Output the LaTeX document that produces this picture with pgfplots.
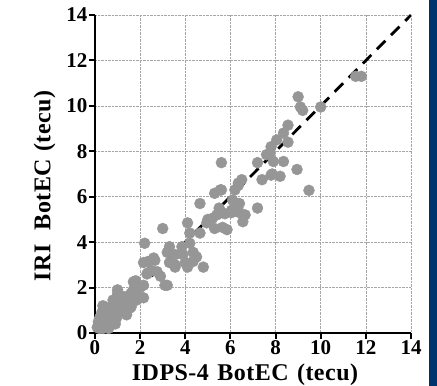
\documentclass[border=0pt]{standalone}
\usepackage{pgfplots}
\pgfplotsset{compat=1.18}
\usepackage{fontspec}
\setmainfont{Liberation Serif}
\definecolor{dotgray}{RGB}{150,150,150}
\definecolor{band}{RGB}{0,52,110}
\begin{document}
\begin{tikzpicture}
\useasboundingbox (-95pt,-53pt) rectangle (342pt,333pt);
\fill[band] (334pt,-53pt) rectangle (342pt,333pt);
\begin{axis}[
  at={(0pt,0pt)}, anchor=south west,
  scale only axis, width=316pt, height=318pt,
  xmin=0, xmax=14, ymin=0, ymax=14,
  xtick={0,2,...,14}, ytick={0,2,...,14},
  axis x line*=bottom, axis y line*=left,
  axis line style={line width=2.4pt, -},
  tick align=outside, major tick length=6pt,
  tick style={line width=2pt, black},
  grid=major,
  major grid style={densely dotted, black!35, line width=0.6pt},
  /pgf/number format/assume math mode=true,
  tick label style={font=\fontsize{21}{21}\selectfont\bfseries},
  xticklabel style={yshift=2pt},
  yticklabel style={xshift=2pt},
  xlabel={IDPS-4\hspace{0.35em}BotEC\hspace{0.35em}(tecu)},
  ylabel={IRI\hspace{0.6em}BotEC\hspace{0.3em}(tecu)},
  label style={font=\fontsize{24}{24}\selectfont\bfseries\addfontfeature{LetterSpace=2.0}},
  xlabel style={yshift=-2pt, xshift=-8pt},
  ylabel style={yshift=4pt, xshift=-12pt},
]
\addplot[only marks, mark=*, mark size=5.5pt, color=dotgray, mark options={draw=none, fill=dotgray}] coordinates {
(0.1,0.25) (0.2,0.2) (0.35,0.2) (0.6,0.2) (0.2,0.65) (0.45,0.5) (0.45,0.65) (0.5,0.7)
(0.8,0.45) (0.9,0.4) (0.95,0.65) (0.35,1.2) (0.65,1.15) (0.65,1.1) (1.0,0.9) (1.2,1.0)
(1.4,0.8) (1.55,1.1) (1.6,1.15) (1.1,1.25) (0.8,1.45) (1.0,1.5) (1.25,1.6) (1.4,1.6)
(1.5,1.45) (1.85,1.45) (2.15,1.55) (1.0,1.75) (1.6,1.75) (1.85,1.75) (1.0,1.9) (1.7,1.9)
(1.8,2.3) (1.7,2.25) (2.15,2.1) (0.3,0.9) (0.5,1.0) (0.7,0.8) (1.3,1.3) (0.15,0.5)
(2.3,2.6) (2.35,2.65) (2.5,2.75) (2.75,2.7) (3.1,2.1) (3.2,2.1) (2.15,3.1) (2.35,3.15)
(2.65,3.2) (2.6,3.3) (2.2,3.95) (3.2,3.55) (3.55,3.45) (3.55,3.0) (3.55,2.9) (3.3,3.1)
(3.3,3.8) (3.85,3.8) (3.9,3.45) (4.0,3.1) (4.1,2.9) (4.35,3.15) (4.35,3.55) (4.5,3.35)
(4.8,2.9) (4.2,3.95) (4.2,4.4) (4.65,4.4) (4.1,4.85) (3.0,4.6) (2.9,2.5) (2.0,2.0)
(4.95,4.85) (5.2,5.05) (5.3,4.6) (5.65,4.65) (5.85,4.55) (5.4,5.2) (5.75,5.25) (6.05,5.3)
(6.4,5.3) (6.55,4.9) (4.65,5.7) (6.2,5.7) (6.05,5.4) (6.1,5.85) (6.4,5.7) (6.65,5.2)
(7.2,5.5) (5.3,6.15) (5.6,6.3) (5.55,6.3) (6.2,6.3) (6.35,6.5) (6.35,6.6) (6.5,6.75)
(5.6,7.5) (5.0,5.0) (5.5,5.5)
(7.2,7.5) (7.4,6.75) (7.8,6.95) (8.2,6.9) (7.85,7.0) (7.6,7.85) (7.75,7.9) (7.9,7.55)
(8.35,7.55) (8.95,7.2) (9.48,6.28) (7.8,8.2) (8.05,8.5) (8.55,8.4) (8.35,8.8) (8.55,9.15)
(9.0,10.4) (9.1,9.95) (9.2,9.8) (10.0,9.95) (11.55,11.3) (11.8,11.3)
};
\addplot[black, line width=2.8pt, dash pattern=on 12pt off 8pt] coordinates {(0,0) (14,14)};
\end{axis}
\end{tikzpicture}
\end{document}
